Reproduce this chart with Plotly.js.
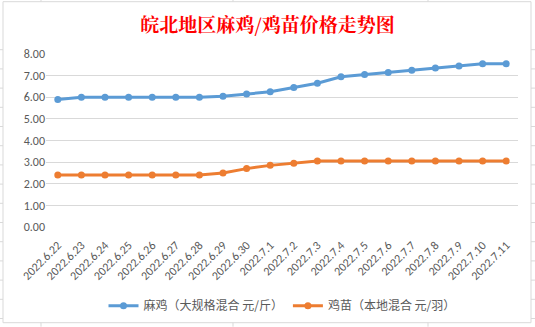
<!DOCTYPE html>
<html>
<head>
<meta charset="utf-8">
<script src="https://cdn.plot.ly/plotly-3.0.1.min.js"></script>
<style>html,body{margin:0;padding:0;background:#fff;}#chart{width:535px;height:327px;}</style>
</head>
<body>
<div id="chart"></div>
<script>
const categories = ["2022.6.22","2022.6.23","2022.6.24","2022.6.25","2022.6.26","2022.6.27","2022.6.28","2022.6.29","2022.6.30","2022.7.1","2022.7.2","2022.7.3","2022.7.4","2022.7.5","2022.7.6","2022.7.7","2022.7.8","2022.7.9","2022.7.10","2022.7.11"];
const maJi = [5.9,6.0,6.0,6.0,6.0,6.0,6.0,6.05,6.15,6.25,6.45,6.65,6.95,7.05,7.15,7.25,7.35,7.45,7.55,7.55];
const jiMiao = [2.4,2.4,2.4,2.4,2.4,2.4,2.4,2.5,2.7,2.85,2.95,3.05,3.05,3.05,3.05,3.05,3.05,3.05,3.05,3.05];
const seriesNames = ["麻鸡（大规格混合 元/斤）","鸡苗（本地混合 元/羽）"];
const yTicks = [0,1,2,3,4,5,6,7,8];

const W = 535, H = 327, L = 46, R = 518, T = 54.3, B = 227.3;
const px = x => (x - L) / (R - L);
const py = y => (B - y) / (B - T);
const shapes = [];
const border = '#d9d9d9';
shapes.push({type:'rect', xref:'paper', yref:'paper', x0:px(3), x1:px(531), y0:py(2), y1:py(323), line:{color:border, width:1}, fillcolor:'rgba(0,0,0,0)', layer:'below'});
[41,233,428].forEach(x=>{
  shapes.push({type:'line', xref:'paper', yref:'paper', x0:px(x), x1:px(x), y0:py(0), y1:py(2), line:{color:border,width:1}});
  shapes.push({type:'line', xref:'paper', yref:'paper', x0:px(x), x1:px(x), y0:py(323), y1:py(327), line:{color:border,width:1}});
});
for (let y = 50; y < 327; y += 19.2) {
  shapes.push({type:'line', xref:'paper', yref:'paper', x0:px(0), x1:px(3), y0:py(y), y1:py(y), line:{color:border,width:1}});
  shapes.push({type:'line', xref:'paper', yref:'paper', x0:px(531), x1:px(535), y0:py(y), y1:py(y), line:{color:border,width:1}});
}

const font = "Calibri, Carlito, 'Liberation Sans', 'Noto Sans CJK SC', sans-serif";
const traces = [
  {x:categories, y:maJi, name:seriesNames[0], type:'scatter', mode:'lines+markers',
   line:{color:'#5b9bd5', width:3}, marker:{color:'#5b9bd5', size:7}},
  {x:categories, y:jiMiao, name:seriesNames[1], type:'scatter', mode:'lines+markers',
   line:{color:'#ed7d31', width:3}, marker:{color:'#ed7d31', size:7}}
];
const layout = {
  width:W, height:H,
  margin:{l:L, r:W-R, t:T, b:H-B, autoexpand:false},
  paper_bgcolor:'#fff', plot_bgcolor:'#fff',
  title:{text:'<b>皖北地区麻鸡/鸡苗价格走势图</b>', x:0.5, xref:'container', xanchor:'center', y:1-25/H, yref:'container', yanchor:'middle',
         font:{family:"'Noto Serif CJK SC','Noto Sans CJK SC', serif", size:19, color:'#ff0000'}},
  xaxis:{type:'category', range:[-0.5, categories.length-0.5], tickmode:'array', tickvals:categories, ticktext:categories, tickangle:-45, ticklabelstandoff:8, showgrid:false, zeroline:false, showline:false, ticks:'',
         tickfont:{family:font, size:12, color:'#595959'}, fixedrange:true, automargin:false},
  yaxis:{range:[0,8], tickvals:yTicks, ticktext:yTicks.map(v=>v.toFixed(2)), showgrid:true, gridcolor:'#d9d9d9', gridwidth:1, zeroline:false, showline:false, ticks:'',
         tickfont:{family:font, size:12, color:'#595959'}, fixedrange:true, automargin:false},
  showlegend:true,
  legend:{orientation:'h', x:0.5, xanchor:'center', y:py(306), yanchor:'middle', font:{family:"'Noto Sans CJK SC', sans-serif", size:12, color:'#595959'}, tracegroupgap:0, bgcolor:'rgba(0,0,0,0)'},
  shapes:shapes
};
Plotly.newPlot('chart', traces, layout, {displayModeBar:false, staticPlot:true});
</script>
</body>
</html>
